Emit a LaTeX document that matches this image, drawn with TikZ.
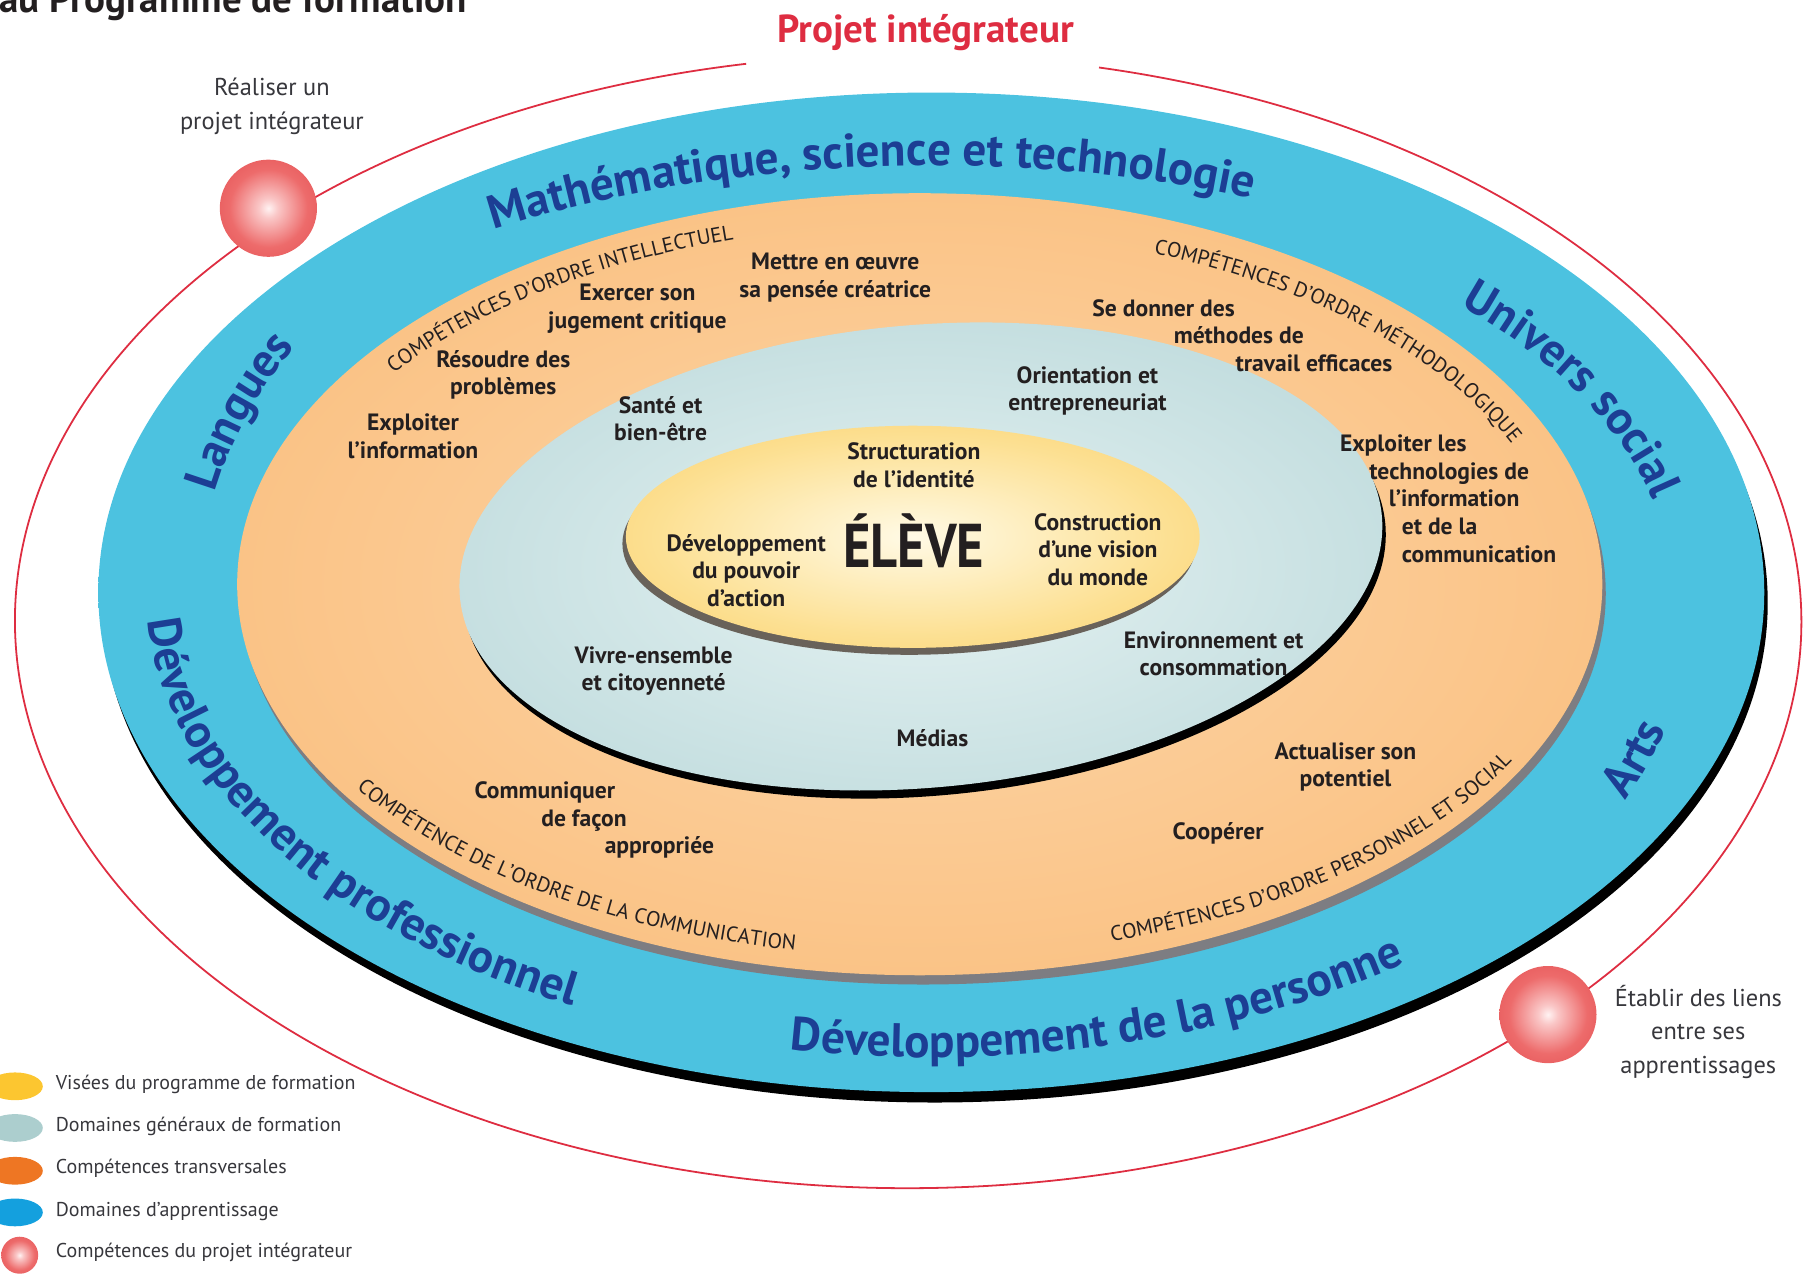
\documentclass[tikz,border=0pt]{standalone}
\usepackage{fontspec}
\setmainfont{PT Sans}
\newfontfamily\condface{PT Sans}[FakeStretch=0.85]
\usetikzlibrary{decorations.text}

\definecolor{ink}{RGB}{35,31,32}
\definecolor{txtgray}{RGB}{55,55,60}
\definecolor{domblue}{RGB}{28,62,148}
\definecolor{ringred}{RGB}{222,45,65}
\definecolor{shadowgray}{RGB}{125,125,130}
\definecolor{yellowshadow}{RGB}{105,98,90}
\definecolor{legyellow}{RGB}{252,198,48}
\definecolor{legteal}{RGB}{172,206,206}
\definecolor{legorange}{RGB}{238,118,35}
\definecolor{legblue}{RGB}{20,160,222}

\pgfdeclareradialshading{bluedisc}{\pgfpoint{0bp}{0bp}}{rgb(0bp)=(0.30,0.76,0.88); rgb(40bp)=(0.30,0.76,0.88); rgb(50bp)=(0.12,0.67,0.83)}
\pgfdeclareradialshading{orangedisc}{\pgfpoint{0bp}{0bp}}{rgb(0bp)=(0.99,0.84,0.66); rgb(30bp)=(0.98,0.75,0.50); rgb(50bp)=(0.96,0.64,0.35)}
\pgfdeclareradialshading{tealdisc}{\pgfpoint{0bp}{0bp}}{rgb(0bp)=(0.90,0.95,0.95); rgb(50bp)=(0.65,0.80,0.81)}
\pgfdeclareradialshading{yellowdisc}{\pgfpoint{0bp}{0bp}}{rgb(0bp)=(1,0.98,0.90); rgb(22bp)=(0.99,0.88,0.58); rgb(50bp)=(0.97,0.75,0.25)}
\pgfdeclareradialshading{rouge}{\pgfpoint{0bp}{0bp}}{rgb(0bp)=(1,0.95,0.95); rgb(5bp)=(0.98,0.78,0.78); rgb(20bp)=(0.93,0.42,0.42); rgb(50bp)=(0.86,0.22,0.24)}

\newcommand\lblfont{\fontsize{14.5}{17}\selectfont\bfseries}
\newcommand\domtext{\fontsize{29}{32}\selectfont\bfseries\color{domblue}}
\newcommand\cattext{\fontsize{13}{15}\selectfont\color{ink}}
\newcommand\elevefont{\condface\fontsize{38}{42}\selectfont\bfseries}
\newcommand\projfont{\fontsize{24}{27}\selectfont\bfseries}
\newcommand\titlefont{\fontsize{24}{27}\selectfont\bfseries}
\newcommand\sidefont{\fontsize{15}{20.6}\selectfont}
\newcommand\legfont{\fontsize{12.3}{15}\selectfont}

\tikzstyle{lbl} = [font=\lblfont, text=ink, align=center, inner sep=0pt]
\tikzstyle{side} = [font=\sidefont, text=txtgray, align=center, inner sep=0pt]
\tikzstyle{legend} = [font=\legfont, text=txtgray, anchor=west, inner sep=0pt]

\begin{document}
\begin{tikzpicture}[x=0.025cm, y=-0.025cm]
    \tikzset{curved/.style={decorate, decoration={text along path, text align=center, text={#1}}}}
    \useasboundingbox (0,0) rectangle (1568,1103);
    \clip (0,0) rectangle (1568,1103);

    \node (titre) [font=\titlefont, text=ink, anchor=base west, inner sep=0pt] at (-1,11) {au Programme de formation};

    % ring of the integrating project
    \draw[ringred, line width=1.1pt] (785,537) ++(-100.45:772 and 490) arc[start angle=-100.45, end angle=-437.66, x radius=772, y radius=490];
    \node (projet) [font=\projfont, text=ringred, inner sep=0pt] at (800,28) {Projet intégrateur};

    % discs
    \fill[black] (808,521) ellipse [x radius=720, y radius=432];
    \shade[shading=bluedisc] (805,512) ellipse [x radius=720, y radius=432];
    \fill[shadowgray] (798,513) ellipse [x radius=590, y radius=338];
    \shade[shading=orangedisc] (795,505) ellipse [x radius=590, y radius=338];
    \fill[black, rotate around={5:(799,488)}] (799,488) ellipse [x radius=400, y radius=200];
    \shade[shading=tealdisc, rotate around={5:(796,481)}] (796,481) ellipse [x radius=400, y radius=200];
    \fill[yellowshadow] (786,470) ellipse [x radius=248, y radius=96];
    \shade[shading=yellowdisc] (789,464) ellipse [x radius=248, y radius=96];

    % domaines d'apprentissage
    \path[curved={|\domtext|Mathématique, science et technologie}] (805,512) ++(-129:716 and 369) arc[start angle=-129, end angle=-60.6, x radius=716, y radius=369];
    \path[curved={|\domtext|Langues}] (805,512) ++(-176:632 and 432) arc[start angle=-176, end angle=-144, x radius=632, y radius=432];
    \path[curved={|\domtext|Univers social}] (805,512) ++(-49.9:640 and 354) arc[start angle=-49.9, end angle=-5.1, x radius=640, y radius=354];
    \path[curved={|\domtext|Arts}] (805,512) ++(30:660 and 431) arc[start angle=30, end angle=10, x radius=660, y radius=431];
    \path[curved={|\domtext|Développement professionnel}] (805,512) ++(-172:678 and 402) arc[start angle=-172, end angle=-250, x radius=678, y radius=402];
    \path[curved={|\domtext|Développement de la personne}] (805,512) ++(108:678 and 402) arc[start angle=108, end angle=44, x radius=678, y radius=402];

    % competences transversales
    \path[curved={|\cattext|COMPÉTENCES D’ORDRE INTELLECTUEL}] (795,505) ++(-152:561 and 311) arc[start angle=-152, end angle=-101, x radius=561, y radius=311];
    \path[curved={|\cattext|COMPÉTENCES D’ORDRE MÉTHODOLOGIQUE}] (795,505) ++(-74:557 and 307) arc[start angle=-74, end angle=-15, x radius=557, y radius=307];
    \path[curved={|\cattext|COMPÉTENCE DE L’ORDRE DE LA COMMUNICATION}] (795,505) ++(-205:582 and 322) arc[start angle=-205, end angle=-265, x radius=582, y radius=322];
    \path[curved={|\cattext|COMPÉTENCES D’ORDRE PERSONNEL ET SOCIAL}] (795,505) ++(79:582 and 322) arc[start angle=79, end angle=20, x radius=582, y radius=322];

    \node (mettre) [lbl] at (722,240) {Mettre en œuvre\\sa pensée créatrice};
    \node (exercer) [lbl] at (551,267) {Exercer son\\jugement critique};
    \node (resoudre) [lbl] at (435,324) {Résoudre des\\problèmes};
    \node (exploiter) [lbl] at (357,377) {Exploiter\\l’information};
    \node (methodes) [lbl, align=left, anchor=west] at (944,290) {Se donner des\\\hspace*{50pt}méthodes de\\\hspace*{88pt}travail efficaces};
    \node (tic) [lbl, align=left, anchor=west] at (1158,431) {Exploiter les\\\hspace*{18pt}technologies de\\\hspace*{30pt}l’information\\\hspace*{38pt}et de la\\\hspace*{38pt}communication};
    \node (communiquer) [lbl, align=left, anchor=west] at (410,709) {Communiquer\\\hspace*{41pt}de façon\\\hspace*{80pt}appropriée};
    \node (actualiser) [lbl] at (1163,663) {Actualiser son\\potentiel};
    \node (cooperer) [lbl] at (1053,720) {Coopérer};

    % domaines generaux de formation
    \node (orient) [lbl] at (940,338) {Orientation et\\entrepreneuriat};
    \node (sante) [lbl] at (571,362) {Santé et\\bien-être};
    \node (vivre) [lbl] at (565,580) {Vivre-ensemble\\et citoyenneté};
    \node (environ) [lbl] at (1049,565) {Environnement et\\consommation};
    \node (medias) [lbl] at (806,638) {Médias};

    % visees
    \node (struct) [lbl] at (790,402) {Structuration\\de l’identité};
    \node (pouvoir) [lbl] at (645,493) {Développement\\du pouvoir\\d’action};
    \node (vision) [lbl] at (949,475) {Construction\\d’une vision\\du monde};
    \node (eleve) [font=\elevefont, text=ink, inner sep=0pt] at (790,467) {ÉLÈVE};

    % competences du projet integrateur
    \shade[shading=rouge] (232,180) circle [radius=42];
    \shade[shading=rouge] (1338,877) circle [radius=42];
    \node (realiser) [side] at (235,92) {Réaliser un\\projet intégrateur};
    \node (etablir) [side] at (1468,892) {Établir des liens\\entre ses\\apprentissages};

    % legende
    \fill[legyellow] (13,939) ellipse [x radius=24, y radius=12];
    \fill[legteal] (13,975) ellipse [x radius=24, y radius=12];
    \fill[legorange] (13,1012) ellipse [x radius=24, y radius=12];
    \fill[legblue] (13,1048) ellipse [x radius=24, y radius=12];
    \shade[shading=rouge] (17,1085) circle [radius=16];
    \node (lgvisees) [legend] at (48,937) {Visées du programme de formation};
    \node (lgdomaines) [legend] at (48,974) {Domaines généraux de formation};
    \node (lgcomp) [legend] at (48,1010) {Compétences transversales};
    \node (lgappr) [legend] at (48,1047) {Domaines d’apprentissage};
    \node (lgprojet) [legend] at (48,1083) {Compétences du projet intégrateur};
\end{tikzpicture}
\end{document}
